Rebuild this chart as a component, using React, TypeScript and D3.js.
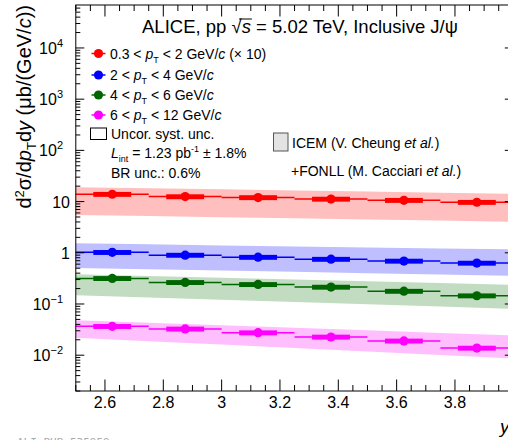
import * as d3 from 'd3'
import { useRef, useLayoutEffect, useState } from 'react'

// rapidity bins
const yEdges = [2.5, 2.75, 3.0, 3.25, 3.5, 3.75, 4.0]
const yCenters = [2.625, 2.875, 3.125, 3.375, 3.625, 3.875]

// measured cross sections (μb/(GeV/c)), first series scaled x10
const xsecPt0to2 = [13.9, 12.5, 12.0, 11.2, 10.6, 9.7]
const xsecPt2to4 = [1.02, 0.9, 0.82, 0.75, 0.69, 0.63]
const xsecPt4to6 = [0.316, 0.264, 0.241, 0.214, 0.178, 0.145]
const xsecPt6to12 = [0.0366, 0.0326, 0.0275, 0.0227, 0.019, 0.0138]
const uncorSyst = [0.11, 0.11, 0.11, 0.11]

// ICEM + FONLL band, given at the bin edges
const modelLowPt0to2 = [5.47, 5.21, 4.96, 4.72, 4.47, 4.25, 4.03]
const modelHighPt0to2 = [19.0, 18.2, 17.4, 16.5, 15.7, 14.9, 14.2]
const modelLowPt2to4 = [0.507, 0.478, 0.449, 0.424, 0.399, 0.375, 0.354]
const modelHighPt2to4 = [1.53, 1.46, 1.395, 1.334, 1.275, 1.219, 1.166]
const modelLowPt4to6 = [0.149, 0.134, 0.121, 0.109, 0.0986, 0.0889, 0.0801]
const modelHighPt4to6 = [0.383, 0.354, 0.326, 0.301, 0.277, 0.256, 0.236]
const modelLowPt6to12 = [0.0219, 0.0188, 0.0161, 0.0138, 0.0118, 0.0101, 0.00864]
const modelHighPt6to12 = [0.0484, 0.0431, 0.0385, 0.0342, 0.0306, 0.0272, 0.0243]

const xTickLabels = ['2.6', '2.8', '3', '3.2', '3.4', '3.6', '3.8']
const yDecades = [-2, -1, 0, 1, 2, 3, 4]

const series = [
  { lo: '0.3', hi: '2', extra: ' (× 10)', values: xsecPt0to2, low: modelLowPt0to2, high: modelHighPt0to2, color: '#ff0000', band: '#ffbfbf' },
  { lo: '2', hi: '4', extra: '', values: xsecPt2to4, low: modelLowPt2to4, high: modelHighPt2to4, color: '#0000ff', band: '#bfbfff' },
  { lo: '4', hi: '6', extra: '', values: xsecPt4to6, low: modelLowPt4to6, high: modelHighPt4to6, color: '#006600', band: '#c2dcc2' },
  { lo: '6', hi: '12', extra: '', values: xsecPt6to12, low: modelLowPt6to12, high: modelHighPt6to12, color: '#ff00ff', band: '#ffbfff' },
]

const font = 'Liberation Sans, Arial, Helvetica, sans-serif'

export default function App() {
  const width = 508
  const height = 440
  const left = 75.8, right = 513.3, top = 5, bottom = 391

  const rootRef = useRef<SVGTSpanElement>(null)
  const sRef = useRef<SVGTSpanElement>(null)
  const [bar, setBar] = useState<{ x1: number, x2: number, y: number } | null>(null)

  useLayoutEffect(() => {
    if (!rootRef.current || !sRef.current) return
    const r = rootRef.current.getExtentOfChar(0)
    const s = sRef.current.getExtentOfChar(0)
    setBar({ x1: r.x + r.width * 0.75, x2: s.x + s.width + 1, y: s.y + 3 })
  }, [])

  const x = d3.scaleLinear().domain([2.5, 4.0]).range([left, right])
  const y = d3.scaleLog().domain([0.002, 69000]).range([bottom, top])

  const xMajor = d3.range(2.6, 3.81, 0.2)
  const xMinor = d3.range(2.5, 4.001, 0.05)
  const yMinor: number[] = []
  for (let e = -3; e <= 4; e++) {
    for (let m = 1; m <= 9; m++) {
      const v = m * Math.pow(10, e)
      if (v >= 0.002 && v <= 69000) yMinor.push(v)
    }
  }

  const area = d3.area<number>()
    .x((_, i) => x(yEdges[i]))

  const sup = (e: number) => (e === 0 || e === 1 ? null : <tspan dy={-7} fontSize={11}>{e < 0 ? '−' + Math.abs(e) : e}</tspan>)

  const pT = (
    <>
      <tspan fontStyle="italic">p</tspan>
      <tspan dy={4} fontSize={9}>T</tspan>
      <tspan dy={-4}> </tspan>
    </>
  )

  const legendY = [53.5, 75, 95, 115]

  return (
    <svg width={width} height={height} style={{ position: 'absolute', left: 0, top: 0, background: '#fff' }} fontFamily={font}>
      {/* model bands */}
      {series.map((s, k) => (
        <path key={'band' + k}
          d={area.y0((_, i) => y(s.low[i])).y1((_, i) => y(s.high[i]))(yEdges) || ''}
          fill={s.band} />
      ))}
      {/* data */}
      {series.map((s, k) => (
        <g key={'data' + k}>
          {s.values.map((v, i) => (
            <g key={i}>
              <line x1={x(yEdges[i])} x2={x(yEdges[i + 1])} y1={y(v)} y2={y(v)} stroke={s.color} strokeWidth={1.5} />
              <rect x={x(yCenters[i] - 0.065)} width={x(yCenters[i] + 0.065) - x(yCenters[i] - 0.065)}
                y={y(v * (1 + uncorSyst[k]))} height={y(v * (1 - uncorSyst[k])) - y(v * (1 + uncorSyst[k]))}
                fill={s.color} />
              <circle cx={x(yCenters[i])} cy={y(v)} r={4.6} fill={s.color} />
            </g>
          ))}
        </g>
      ))}

      {/* frame */}
      <rect x={left} y={top} width={right - left} height={bottom - top} fill="none" stroke="#000" strokeWidth={1} />
      {/* x ticks */}
      {xMinor.map((t, i) => {
        const major = xMajor.some(m => Math.abs(m - t) < 1e-6)
        const len = major ? 11.5 : 6
        return (
          <g key={'xt' + i} stroke="#000">
            <line x1={x(t)} x2={x(t)} y1={bottom} y2={bottom - len} />
            <line x1={x(t)} x2={x(t)} y1={top} y2={top + len} />
          </g>
        )
      })}
      {xMajor.map((t, i) => (
        <text key={'xl' + i} x={x(t)} y={408} textAnchor="middle" fontSize={16}>{xTickLabels[i]}</text>
      ))}
      {/* y ticks */}
      {yMinor.map((v, i) => {
        const major = Math.abs(Math.log10(v) - Math.round(Math.log10(v))) < 1e-6
        const len = major ? 8.5 : 4.5
        return (
          <g key={'yt' + i} stroke="#000">
            <line x1={left} x2={left + len} y1={y(v)} y2={y(v)} />
            <line x1={right} x2={right - len} y1={y(v)} y2={y(v)} />
          </g>
        )
      })}
      {yDecades.map(e => (
        <text key={'yl' + e} x={e >= 2 || e < 0 ? 63 : 70} y={y(Math.pow(10, e)) + 6} textAnchor="end" fontSize={16}>
          {e === 0 ? '1' : e === 1 ? '10' : <>10{sup(e)}</>}
        </text>
      ))}

      {/* axis titles */}
      <text transform={`translate(31,${top}) rotate(-90)`} textAnchor="end" fontSize={20}>
        d<tspan dy={-7} fontSize={13}>2</tspan><tspan dy={7}>σ/d</tspan><tspan fontStyle="italic">p</tspan>
        <tspan dy={5} fontSize={13}>T</tspan><tspan dy={-5}>d</tspan><tspan fontStyle="italic">y</tspan> (μb/(GeV/<tspan fontStyle="italic">c</tspan>))
      </text>
      <text x={500} y={433} fontSize={19} fontStyle="italic">y</text>

      {/* header */}
      <text x={142} y={33} fontSize={18.5}>
        ALICE, pp <tspan ref={rootRef}>√</tspan><tspan ref={sRef} fontStyle="italic">s</tspan> = 5.02 TeV, Inclusive J/ψ
      </text>
      {bar && <line x1={bar.x1} x2={bar.x2} y1={bar.y} y2={bar.y} stroke="#000" strokeWidth={1} />}

      {/* legend */}
      {series.map((s, k) => (
        <g key={'leg' + k}>
          <line x1={91.5} x2={105.5} y1={legendY[k]} y2={legendY[k]} stroke={s.color} strokeWidth={1.5} />
          <circle cx={98.5} cy={legendY[k]} r={4.6} fill={s.color} />
          <text x={110} y={legendY[k] + 5} fontSize={14}>
            {s.lo} &lt; {pT}&lt; {s.hi} GeV/<tspan fontStyle="italic">c</tspan>{s.extra}
          </text>
        </g>
      ))}
      <rect x={90.5} y={128} width={16} height={11.5} fill="#fff" stroke="#000" strokeWidth={1} />
      <text x={111} y={139} fontSize={14}>Uncor. syst. unc.</text>
      <text x={111} y={158} fontSize={14}>
        <tspan fontStyle="italic">L</tspan><tspan dy={4} fontSize={9}>int</tspan><tspan dy={-4}> = 1.23 pb</tspan>
        <tspan dy={-6} fontSize={9}>-1</tspan><tspan dy={6}> ± 1.8%</tspan>
      </text>
      <text x={111} y={178} fontSize={14}>BR unc.: 0.6%</text>

      <rect x={273.5} y={133} width={14.5} height={18} fill="#e3e3e3" stroke="#555" strokeWidth={1} />
      <text x={292} y={148} fontSize={14}>ICEM (V. Cheung <tspan fontStyle="italic">et al.</tspan>)</text>
      <text x={291} y={176} fontSize={14}>+FONLL (M. Cacciari <tspan fontStyle="italic">et al.</tspan>)</text>

      <text x={17} y={446} fontSize={11} fill="#aaa" fontFamily="DejaVu Sans Mono, monospace">ALI-PUB-535959</text>
    </svg>
  )
}
